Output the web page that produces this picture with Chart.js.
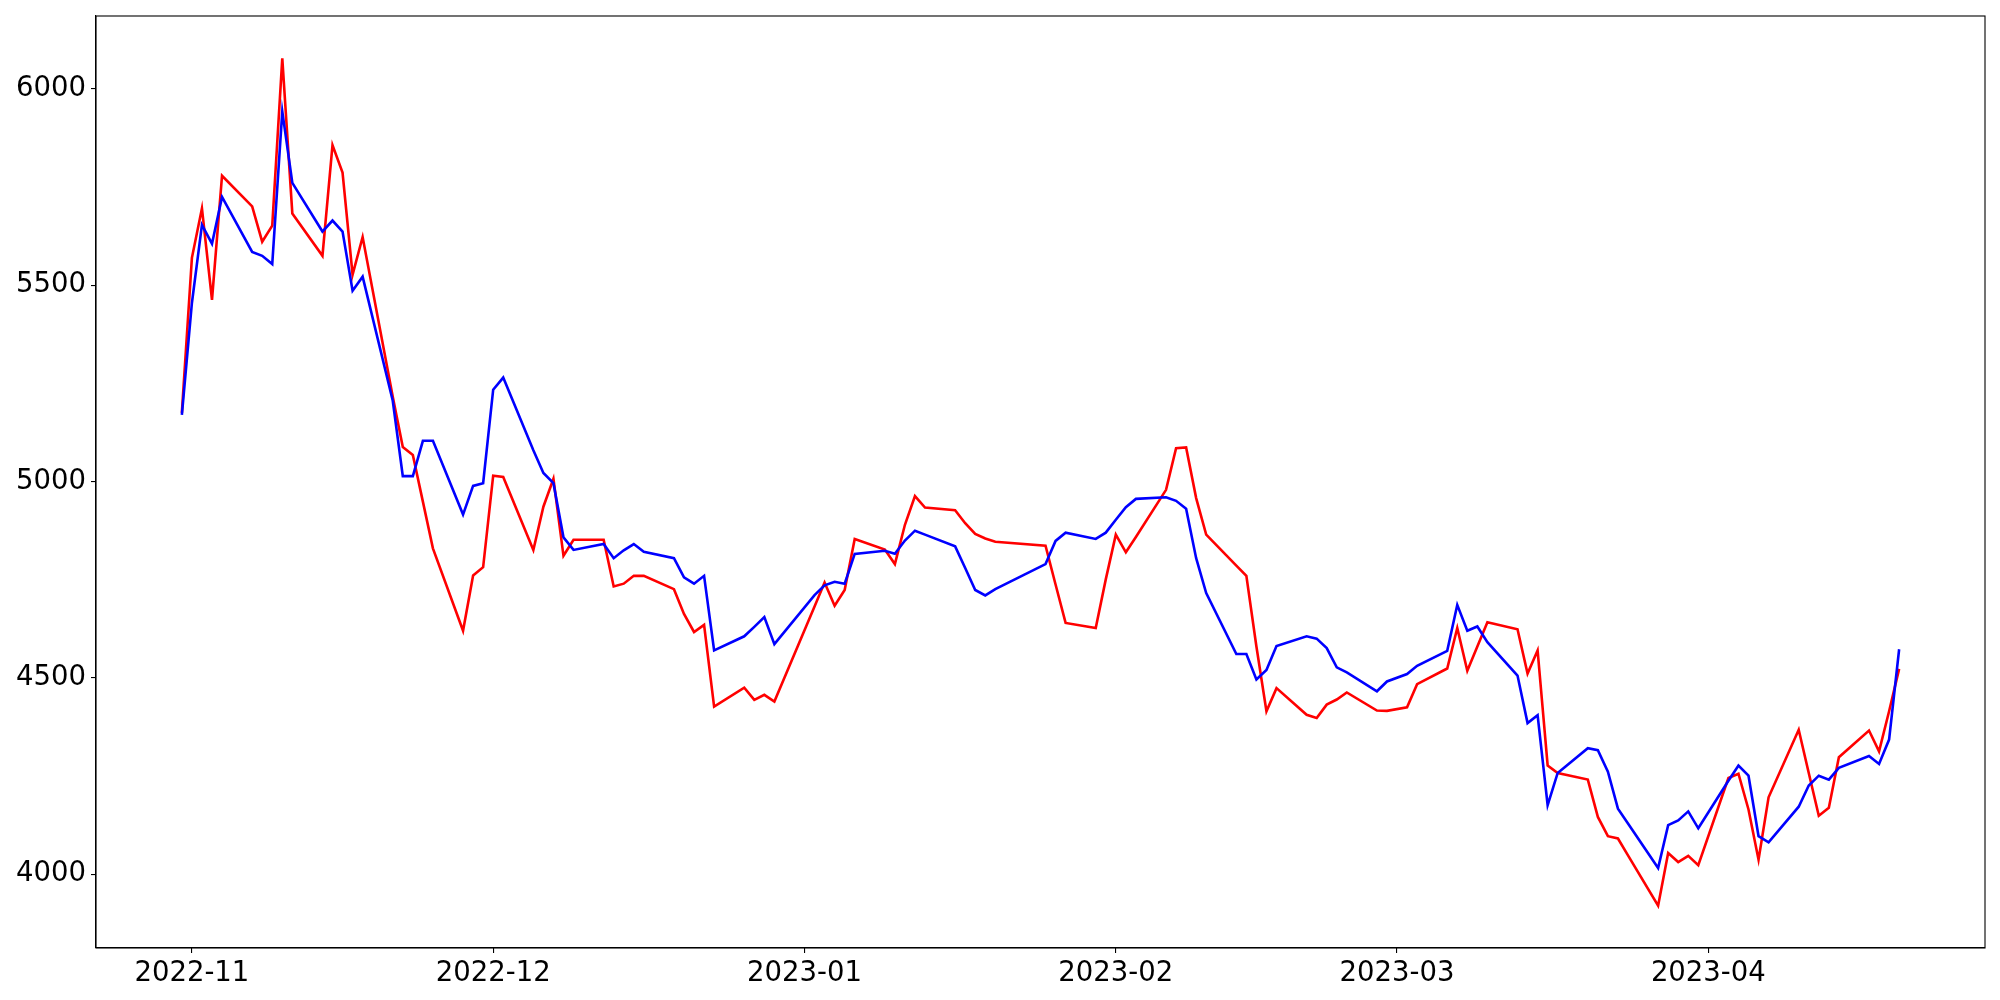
<!DOCTYPE html>
<html>
<head>
<meta charset="utf-8">
<script src="https://cdn.jsdelivr.net/npm/chart.js@4/dist/chart.umd.min.js"></script>
<style>
  html, body { margin: 0; padding: 0; background: #fff; }
  canvas { display: block; }
</style>
</head>
<body>
<canvas id="myChart" width="2000" height="1000"></canvas>
<script>
"use strict";

// trading days shown in the chart
const dates = [
    '2022-10-31', '2022-11-01', '2022-11-02', '2022-11-03', '2022-11-04',
    '2022-11-07', '2022-11-08', '2022-11-09', '2022-11-10', '2022-11-11',
    '2022-11-14', '2022-11-15', '2022-11-16', '2022-11-17', '2022-11-18',
    '2022-11-21', '2022-11-22', '2022-11-23', '2022-11-24', '2022-11-25',
    '2022-11-28', '2022-11-29', '2022-11-30', '2022-12-01', '2022-12-02',
    '2022-12-05', '2022-12-06', '2022-12-07', '2022-12-08', '2022-12-09',
    '2022-12-12', '2022-12-13', '2022-12-14', '2022-12-15', '2022-12-16',
    '2022-12-19', '2022-12-20', '2022-12-21', '2022-12-22', '2022-12-23',
    '2022-12-26', '2022-12-27', '2022-12-28', '2022-12-29',
    '2023-01-02', '2023-01-03', '2023-01-04', '2023-01-05', '2023-01-06',
    '2023-01-09', '2023-01-10', '2023-01-11', '2023-01-12', '2023-01-13',
    '2023-01-16', '2023-01-17', '2023-01-18', '2023-01-19', '2023-01-20',
    '2023-01-25', '2023-01-26', '2023-01-27', '2023-01-30', '2023-01-31',
    '2023-02-01', '2023-02-02', '2023-02-03', '2023-02-06', '2023-02-07',
    '2023-02-08', '2023-02-09', '2023-02-10', '2023-02-13', '2023-02-14',
    '2023-02-15', '2023-02-16', '2023-02-17', '2023-02-20', '2023-02-21',
    '2023-02-22', '2023-02-23', '2023-02-24', '2023-02-27', '2023-02-28',
    '2023-03-02', '2023-03-03', '2023-03-06', '2023-03-07', '2023-03-08',
    '2023-03-09', '2023-03-10', '2023-03-13', '2023-03-14', '2023-03-15',
    '2023-03-16', '2023-03-17', '2023-03-20', '2023-03-21', '2023-03-22',
    '2023-03-23', '2023-03-24', '2023-03-27', '2023-03-28', '2023-03-29',
    '2023-03-30', '2023-03-31', '2023-04-03', '2023-04-04', '2023-04-05',
    '2023-04-06', '2023-04-07', '2023-04-10', '2023-04-11', '2023-04-12',
    '2023-04-13', '2023-04-14', '2023-04-17', '2023-04-18', '2023-04-19',
    '2023-04-20'
];

const redValues = [
    5175, 5570, 5696, 5463, 5779,
    5701, 5611, 5652, 6078, 5683,
    5575, 5857, 5787, 5527, 5623,
    5216, 5088, 5068, 4949, 4830,
    4620, 4761, 4782, 5015, 5012,
    4826, 4936, 5007, 4811, 4852,
    4852, 4733, 4740, 4760, 4760,
    4726, 4663, 4617, 4635, 4427,
    4475, 4444, 4457, 4440,
    4682, 4743, 4684, 4724, 4854,
    4827, 4790, 4890, 4963, 4934,
    4927, 4894, 4867, 4855, 4847,
    4837, 4738, 4640, 4627, 4751,
    4865, 4820, 4859, 4979, 5085,
    5087, 4958, 4865, 4786, 4760,
    4580, 4415, 4474, 4406, 4398,
    4432, 4445, 4463, 4417, 4416,
    4425, 4484, 4524, 4627, 4518,
    4580, 4642, 4624, 4511, 4570,
    4277, 4258, 4241, 4146, 4097,
    4091, 4048, 3920, 4054, 4031,
    4047, 4023, 4245, 4256, 4165,
    4037, 4196, 4368, 4258, 4149,
    4169, 4298, 4366, 4313, 4415,
    4523
];

const blueValues = [
    5170, 5455, 5654, 5606, 5725,
    5585, 5575, 5554, 5943, 5761,
    5637, 5665, 5637, 5486, 5522,
    5206, 5014, 5014, 5104, 5104,
    4916, 4989, 4996, 5234, 5265,
    5080, 5022, 4996, 4858, 4826,
    4841, 4805, 4825, 4841, 4821,
    4805, 4756, 4740, 4760, 4570,
    4606, 4630, 4655, 4586,
    4711, 4736, 4745, 4740, 4816,
    4824, 4816, 4850, 4875, 4865,
    4835, 4780, 4724, 4710, 4726,
    4790, 4849, 4870, 4854, 4870,
    4903, 4935, 4956, 4960, 4951,
    4931, 4805, 4716, 4561, 4561,
    4496, 4520, 4581, 4606, 4600,
    4576, 4527, 4514, 4466, 4491,
    4510, 4531, 4569, 4686, 4620,
    4631, 4591, 4506, 4385, 4405,
    4176, 4258, 4321, 4316, 4261,
    4167, 4129, 4016, 4125, 4137,
    4160, 4117, 4238, 4277, 4251,
    4097, 4081, 4172, 4226, 4251,
    4241, 4271, 4301, 4281, 4343,
    4573
];

const monthTicks = ['2022-11', '2022-12', '2023-01', '2023-02', '2023-03', '2023-04'];
const valueTicks = [4000, 4500, 5000, 5500, 6000];

function toTime(s) {
    var p = s.split('-');
    return Date.UTC(+p[0], +p[1] - 1, p[2] ? +p[2] : 1);
}

const times = dates.map(toTime);
const redPoints = times.map((t, i) => ({ x: t, y: redValues[i] }));
const bluePoints = times.map((t, i) => ({ x: t, y: blueValues[i] }));

// matplotlib-like 5% margins
const xSpan = times[times.length - 1] - times[0];
const xMin = times[0] - xSpan * 0.05;
const xMax = times[times.length - 1] + xSpan * 0.05;
const allValues = redValues.concat(blueValues);
const yLow = Math.min.apply(null, allValues);
const yHigh = Math.max.apply(null, allValues);
const yMin = yLow - (yHigh - yLow) * 0.05;
const yMax = yHigh + (yHigh - yLow) * 0.05;

const tickFont = { family: 'DejaVu Sans', size: 27.5 };

const framePlugin = {
    id: 'frame',
    afterDraw(chart) {
        const a = chart.chartArea;
        const ctx = chart.ctx;
        ctx.save();
        ctx.strokeStyle = '#000';
        ctx.lineWidth = 1.1;
        ctx.strokeRect(a.left, a.top, a.right - a.left, a.bottom - a.top);
        ctx.restore();
    }
};

const ctx = document.getElementById('myChart').getContext('2d');
const myChart = new Chart(ctx, {
    type: 'line',
    data: {
        datasets: [{
            data: redPoints,
            borderColor: '#ff0000',
            borderWidth: 2.6,
            pointRadius: 0,
            tension: 0,
            fill: false,
            order: 2
        }, {
            data: bluePoints,
            borderColor: '#0000ff',
            borderWidth: 2.6,
            pointRadius: 0,
            tension: 0,
            fill: false,
            order: 1
        }]
    },
    options: {
        responsive: false,
        animation: false,
        devicePixelRatio: 1,
        layout: { padding: { top: 16, right: 15, left: 0, bottom: 0 } },
        plugins: {
            legend: { display: false },
            tooltip: { enabled: false }
        },
        scales: {
            x: {
                type: 'linear',
                min: xMin,
                max: xMax,
                grid: { drawOnChartArea: false, drawTicks: true, tickLength: 5, color: '#000', lineWidth: 1.1 },
                border: { display: true, color: '#000', width: 1.1 },
                ticks: {
                    color: '#000',
                    font: tickFont,
                    padding: 4,
                    maxRotation: 0,
                    autoSkip: false,
                    callback: function (value, index) { return monthTicks[index]; }
                },
                afterBuildTicks: function (scale) {
                    scale.ticks = monthTicks.map(m => ({ value: toTime(m) }));
                },
                afterFit: function (scale) {
                    scale.height = 52;
                    scale.paddingLeft = 0;
                    scale.paddingRight = 0;
                }
            },
            y: {
                type: 'linear',
                min: yMin,
                max: yMax,
                grid: { drawOnChartArea: false, drawTicks: true, tickLength: 5, color: '#000', lineWidth: 1.1 },
                border: { display: true, color: '#000', width: 1.1 },
                ticks: {
                    color: '#000',
                    font: tickFont,
                    padding: 5,
                    callback: function (value) { return String(value); }
                },
                afterBuildTicks: function (scale) {
                    scale.ticks = valueTicks.map(v => ({ value: v }));
                },
                afterFit: function (scale) {
                    scale.width = 96;
                    scale.paddingTop = 0;
                    scale.paddingBottom = 0;
                }
            }
        }
    },
    plugins: [framePlugin]
});
</script>
</body>
</html>
